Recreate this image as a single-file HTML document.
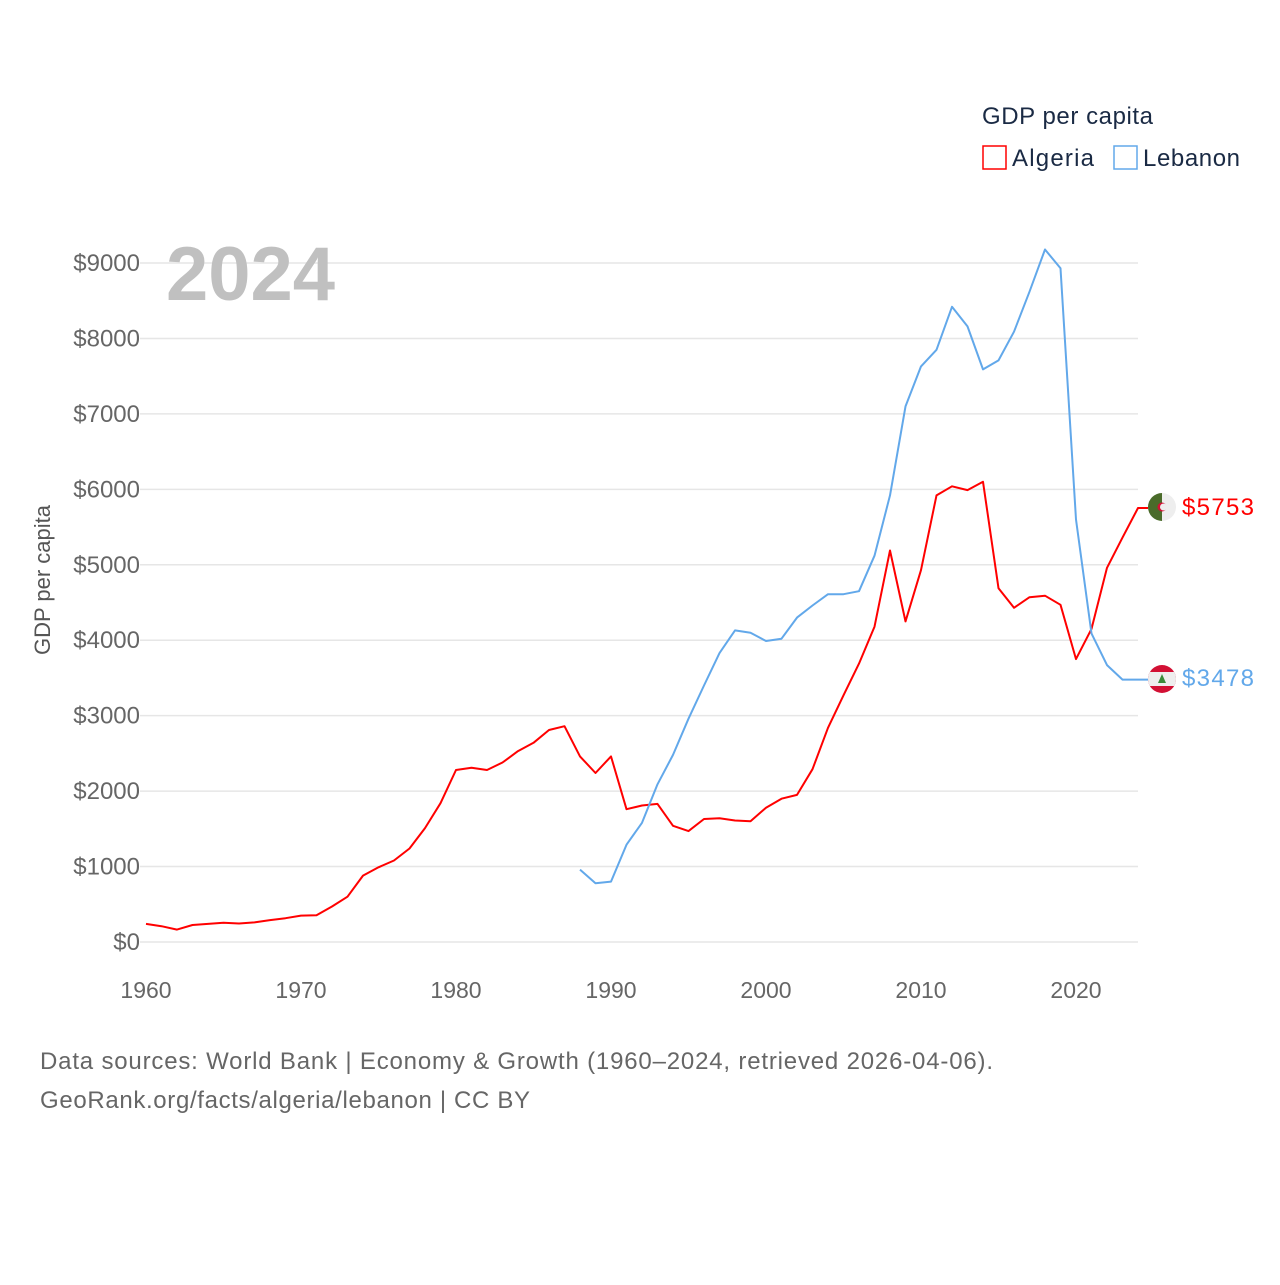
<!DOCTYPE html>
<html><head><meta charset="utf-8">
<style>
body{margin:0;background:#fff;font-family:"Liberation Sans",sans-serif;}
svg text{font-family:"Liberation Sans",sans-serif;}
</style></head>
<body>
<svg id="chart" width="1280" height="1280" xmlns="http://www.w3.org/2000/svg">
<rect width="1280" height="1280" fill="#fff"/>
<g id="grid"></g>
<g id="yticks"></g>
<g id="xticks"></g>
<text x="166" y="300" font-size="76" font-weight="bold" fill="#c0c0c0">2024</text>
<text transform="translate(50,580) rotate(-90)" text-anchor="middle" font-size="22" fill="#555">GDP per capita</text>
<g id="series"></g>
<g>
<text x="982" y="124" font-size="24" fill="#1a2a44" textLength="171">GDP per capita</text>
<g>
<rect x="983" y="146" width="23" height="23" fill="none" stroke="#ff0000" stroke-width="1.5"/>
<text x="1012" y="166" font-size="24" fill="#1a2a44" textLength="82">Algeria</text></g>
<g>
<rect x="1114" y="146" width="23" height="23" fill="none" stroke="#62a8ea" stroke-width="1.5"/>
<text x="1143" y="166" font-size="24" fill="#1a2a44" textLength="97">Lebanon</text></g>
</g>
<g>
<clipPath id="ca"><circle cx="1162" cy="507" r="14"/></clipPath>
<g clip-path="url(#ca)"><rect x="1148" y="493" width="14" height="28" fill="#4a6b2a"/><rect x="1162" y="493" width="14" height="28" fill="#eee"/>
<circle cx="1162" cy="507" r="4.5" fill="#d21034"/><circle cx="1163.5" cy="507" r="3.5" fill="#eee"/></g></g>
<g>
<clipPath id="cl"><circle cx="1162" cy="679" r="14"/></clipPath>
<g clip-path="url(#cl)"><rect x="1148" y="665" width="28" height="28" fill="#d21034"/><rect x="1148" y="672" width="28" height="14" fill="#eee"/>
<polygon points="1162,674 1158,683 1166,683" fill="#3a8a3a"/></g></g>
<text x="1182" y="515" font-size="24" fill="#ff0000" textLength="72">$5753</text>
<text x="1182" y="686" font-size="24" fill="#62a8ea" textLength="72">$3478</text>
<text x="40" y="1069" font-size="24" fill="#666" textLength="953">Data sources: World Bank | Economy &amp; Growth (1960–2024, retrieved 2026-04-06).</text>
<text x="40" y="1108" font-size="24" fill="#666" textLength="490">GeoRank.org/facts/algeria/lebanon | CC BY</text>
</svg>
<script>
const yTicks=[0,1000,2000,3000,4000,5000,6000,7000,8000,9000];
const xTicks=[1960,1970,1980,1990,2000,2010,2020];
const algeriaStart=1960;
const algeria=[240,210,165,225,240,255,245,260,290,315,350,355,470,600,880,990,1080,1240,1510,1840,2280,2310,2280,2380,2530,2640,2810,2860,2460,2240,2460,1760,1810,1830,1540,1470,1630,1640,1610,1600,1780,1900,1950,2290,2840,3270,3690,4180,5190,4250,4930,5920,6040,5990,6100,4690,4430,4570,4590,4470,3750,4150,4960,5360,5753];
const lebanonStart=1988;
const lebanon=[960,780,800,1290,1580,2090,2480,2960,3400,3830,4130,4100,3990,4020,4300,4460,4610,4610,4650,5120,5920,7100,7630,7850,8420,8160,7590,7710,8090,8620,9180,8930,5600,4090,3670,3478];
const NS='http://www.w3.org/2000/svg';
function X(yr){return 146+(yr-1960)*15.5;}
function Y(v){return 942-v*0.07544;}
function mk(t,a,p){const e=document.createElementNS(NS,t);for(const k in a)e.setAttribute(k,a[k]);p.appendChild(e);return e;}
const grid=document.getElementById('grid'),yt=document.getElementById('yticks'),xt=document.getElementById('xticks'),ser=document.getElementById('series');
yTicks.forEach(v=>{
 const l=mk('line',{x1:140,x2:1138,y1:Y(v),y2:Y(v),stroke:'#e6e6e6','stroke-width':1.5},grid);
 
 
 const t=mk('text',{x:140,y:Y(v)+8,'text-anchor':'end','font-size':24,fill:'#666'},yt);
 t.textContent='$'+v;
 
 
});
xTicks.forEach(v=>{
 const t=mk('text',{x:X(v),y:998,'text-anchor':'middle','font-size':23,fill:'#666'},xt);
 t.textContent=v;
 
 
});
function line(data,start,color,name,endX){
 let pts=data.map((v,i)=>X(start+i).toFixed(1)+','+Y(v).toFixed(1));
 pts.push(endX+','+Y(data[data.length-1]).toFixed(1));
 const p=mk('polyline',{points:pts.join(' '),fill:'none',stroke:color,'stroke-width':2,'stroke-linejoin':'round'},ser);
 
 
}
line(algeria,algeriaStart,'#ff0000','algeria-line',1148);
line(lebanon,lebanonStart,'#62a8ea','lebanon-line',1148);
</script>
</body></html>
